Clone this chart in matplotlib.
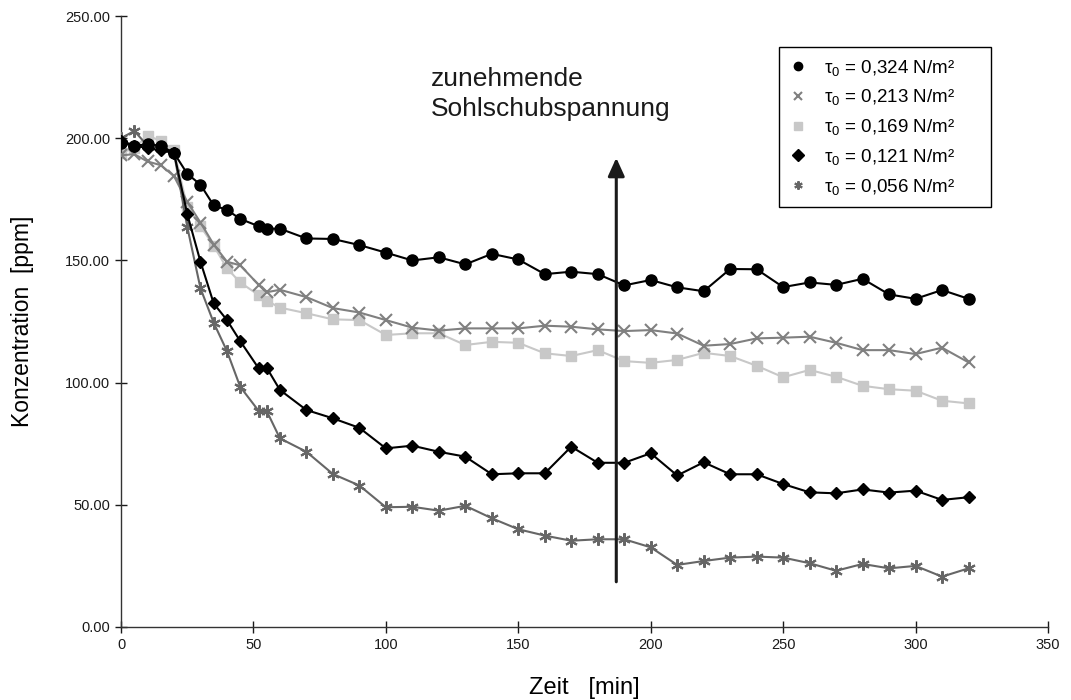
import matplotlib
matplotlib.use("Agg")
import matplotlib.pyplot as plt

plt.rcParams.update({
    "font.family": ["Liberation Sans", "DejaVu Sans"],
    "mathtext.fontset": "custom",
    "mathtext.rm": "Liberation Sans",
    "mathtext.it": "Liberation Sans",
    "font.size": 10,
})

# time [min]
t = [0, 5, 10, 15, 20, 25, 30, 35, 40, 45, 52, 55, 60, 70, 80, 90, 100, 110, 120,
     130, 140, 150, 160, 170, 180, 190, 200, 210, 220, 230, 240, 250, 260, 270,
     280, 290, 300, 310, 320]

# concentration [ppm] per bed shear stress
c324 = [198, 197, 197.5, 197, 194, 185.5, 181, 172.5, 170.7, 167, 164, 163, 163,
        159, 158.8, 156.3, 153.2, 150, 151.3, 148.4, 152.7, 150.4, 144.4, 145.4,
        144.4, 139.8, 142, 139, 137.4, 146.5, 146.4, 139.1, 141, 140, 142.5,
        136.1, 134.3, 137.9, 134.3]
c213 = [193, 193.5, 190.5, 189, 184.5, 174, 165.5, 156.5, 149.5, 148, 140, 137, 138,
        135, 130.5, 128.7, 125.6, 122.5, 121.3, 122.2, 122.2, 122.2, 123.3, 122.9,
        121.8, 121.1, 121.5, 120.1, 115.1, 115.8, 118.1, 118.4, 118.8, 116.3,
        113.3, 113.3, 111.7, 114.3, 108.3]
c169 = [194, 196, 201, 199, 195, 172, 164, 156, 146.8, 141, 135.8, 133.5, 130.7,
        128.4, 125.9, 125.6, 119.5, 120.2, 120.2, 115.4, 116.7, 116.3, 112, 110.9,
        113.3, 108.8, 108.1, 109.3, 112.2, 110.9, 106.9, 102.2, 105.2, 102.4,
        98.7, 97.3, 96.7, 92.6, 91.5]
c121 = [199, 197, 196, 195, 194, 169, 149.5, 132.4, 125.6, 117, 105.8, 106.1, 97,
        88.8, 85.4, 81.5, 73.1, 74.2, 71.7, 69.7, 62.5, 62.9, 62.9, 73.8, 67.2,
        67.2, 71.1, 62, 67.4, 62.5, 62.5, 58.5, 55.1, 54.7, 56.3, 55, 55.8, 52,
        53.1]
c056 = [200, 203, 197, 196, 194, 163.8, 138.6, 124.5, 112.9, 98.3, 88.4, 88.4,
        77.2, 71.7, 62.6, 57.9, 49, 49.2, 47.6, 49.6, 44.5, 40, 37.4, 35.3, 35.9,
        35.9, 32.6, 25.4, 27, 28.4, 28.8, 28.4, 26.1, 23, 25.8, 24, 25, 20.6, 24]

labels = ["τ$_0$ = 0,324 N/m²", "τ$_0$ = 0,213 N/m²", "τ$_0$ = 0,169 N/m²",
          "τ$_0$ = 0,121 N/m²", "τ$_0$ = 0,056 N/m²"]

ARROW_X, ARROW_Y0, ARROW_Y1 = 187, 18.5, 192

fig = plt.figure(figsize=(10.71, 7.0), dpi=100)
ax = fig.add_axes([0.113, 0.1043, 0.8655, 0.8727])

lw = 1.5
h169, = ax.plot(t, c169, color="#c8c8c8", lw=lw, marker="s", ms=7, mec="#c8c8c8", zorder=2)
h213, = ax.plot(t, c213, color="#808080", lw=lw, marker="x", ms=8, mew=1.5, zorder=3)
h056, = ax.plot(t, c056, color="#666666", lw=lw, marker=(6, 2, 0), ms=9, mew=1.5, zorder=3)
h121, = ax.plot(t, c121, color="#000000", lw=lw, marker="D", ms=6, zorder=4)
h324, = ax.plot(t, c324, color="#000000", lw=lw, marker="o", ms=8, zorder=5)

ax.annotate("", xy=(ARROW_X, ARROW_Y1), xytext=(ARROW_X, ARROW_Y0),
            arrowprops=dict(arrowstyle="-|>,head_length=1.1,head_width=0.5",
                            color="#1a1a1a", lw=2.2, shrinkA=0, shrinkB=0), zorder=6)
ax.text(117, 229, "zunehmende\nSohlschubspannung", fontsize=19, color="#1a1a1a",
        va="top", ha="left", linespacing=1.3)

handles = [h324, h213, h169, h121, h056]
leg = ax.legend(handles, labels, loc="upper right", bbox_to_anchor=(0.939, 0.949),
                fontsize=13.5, frameon=True, fancybox=False, edgecolor="#000000",
                framealpha=1, handlelength=1.0, handletextpad=0.85, labelspacing=0.52,
                borderpad=0.55, borderaxespad=0)
for lh in leg.legend_handles:
    lh.set_linestyle("none")
    lh.set_markersize(6)
leg.get_frame().set_linewidth(1.0)
# the original box has a wider right margin than left
for txt in leg.get_texts():
    txt.set_text(txt.get_text() + "      ")

ax.set_xlim(0, 350)
ax.set_ylim(0, 250)
ax.set_xticks(range(0, 351, 50))
ax.set_yticks(range(0, 251, 50))
ax.set_yticklabels([f"{v:.2f}" for v in range(0, 251, 50)])
ax.tick_params(direction="inout", length=9, width=1.0, labelsize=10.5, colors="#1a1a1a")
ax.spines["top"].set_visible(False)
ax.spines["right"].set_visible(False)
for s in ("left", "bottom"):
    ax.spines[s].set_color("#333333")
    ax.spines[s].set_linewidth(1.0)

ax.set_xlabel("Zeit   [min]", fontsize=17, labelpad=18)
ax.set_ylabel("Konzentration  [ppm]", fontsize=16.5, labelpad=22)

fig.savefig("out.png", dpi=100, facecolor="white")
